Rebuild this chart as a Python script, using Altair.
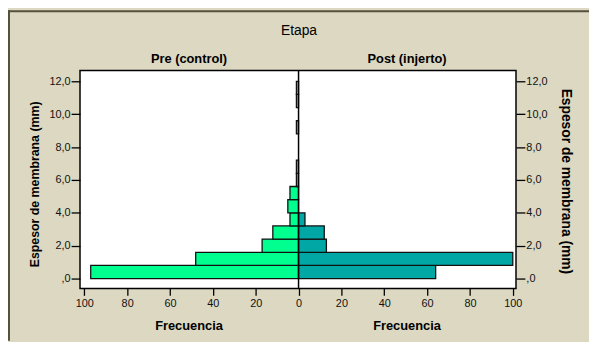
import altair as alt
import pandas as pd

# ---- data ----
bin_start = [0.0, 0.8, 1.6, 2.4, 3.2, 4.0, 4.8, 5.6, 6.4, 7.2, 8.0, 8.8, 9.6, 10.4, 11.2]
bin_width = 0.8
pre_counts = [97, 48, 17, 12, 4, 5, 4, 1, 1, 0, 0, 1, 0, 1, 1]
post_counts = [64, 100, 13, 12, 3, 0, 0, 0, 0, 0, 0, 0, 0, 0, 0]
etapas = ["Pre (control)", "Post (injerto)"]
x_ticks = [-100, -80, -60, -40, -20, 0, 20, 40, 60, 80, 100]
y_ticks = [0, 2, 4, 6, 8, 10, 12]

rows = []
for s, p, q in zip(bin_start, pre_counts, post_counts):
    e = round(s + bin_width, 1)
    rows.append({"etapa": etapas[0], "lo": s, "hi": e, "n": p, "signed": -p})
    rows.append({"etapa": etapas[1], "lo": s, "hi": e, "n": q, "signed": q})
df = pd.DataFrame(rows)
df = df[df["n"] > 0]

W, H = 442, 221
FONT = "Liberation Sans"
BG = "#DCD8C2"
BORDER = "#55503b"

x_scale = alt.Scale(domain=[-102, 101.5], nice=False, zero=False)
y_scale = alt.Scale(domain=[-0.6, 12.66], nice=False, zero=False)

y_label_expr = "datum.value == 0 ? ',0' : replace(format(datum.value, '.1f'), '.', ',')"

x_axis = alt.Axis(values=x_ticks, labelExpr="'' + abs(datum.value)", title=None,
                  grid=False, domain=False, tickSize=7, tickColor="#000",
                  tickWidth=1.3, labelFontSize=11, labelPadding=2,
                  labelFont=FONT, labelColor="#111")

def y_axis(orient):
    left = orient == "left"
    return alt.Axis(orient=orient, values=y_ticks, labelExpr=y_label_expr,
                    title="Espesor de membrana (mm)",
                    titleFont=FONT, titleFontWeight="bold",
                    titleFontSize=12.5 if left else 14,
                    titleAngle=-90 if left else 90,
                    titleX=-46 if left else 50,
                    titleY=115 if left else 112,
                    titleAlign="center", titleBaseline="middle",
                    titleColor="#000",
                    grid=False, domain=False, tickSize=9, tickColor="#000",
                    tickWidth=1.3, labelPadding=1, labelFontSize=11,
                    labelFont=FONT, labelColor="#111")

base = alt.Chart(df)

pre_bars = base.transform_filter(alt.datum.etapa == etapas[0]).mark_bar(
    fill="#00FF8E", stroke="#111", strokeWidth=1.3
).encode(
    x=alt.X("signed:Q", scale=x_scale, axis=x_axis),
    x2=alt.datum(0),
    y=alt.Y("lo:Q", scale=y_scale, axis=y_axis("left")),
    y2="hi:Q",
)

post_bars = base.transform_filter(alt.datum.etapa == etapas[1]).mark_bar(
    fill="#00A7A5", stroke="#111", strokeWidth=1.3
).encode(
    x=alt.X("signed:Q", scale=x_scale, axis=x_axis),
    x2=alt.datum(0),
    y=alt.Y("lo:Q", scale=y_scale, axis=y_axis("right")),
    y2="hi:Q",
)

center = alt.Chart(pd.DataFrame({"z": [0]})).mark_rule(color="#000", strokeWidth=1.5).encode(
    x=alt.X("z:Q", scale=x_scale, axis=x_axis)
)

one = pd.DataFrame({"k": [0]})

def text(label, x, y, size, weight, base_line="middle"):
    return alt.Chart(one).mark_text(
        text=label, font=FONT, fontSize=size, fontWeight=weight,
        color="#000", align="center", baseline=base_line
    ).encode(x=alt.value(x), y=alt.value(y))

titles = [
    text("Etapa", W / 2 + 1, -40, 14, "normal"),
    text(etapas[0], W / 4, -12, 13, "bold"),
    text(etapas[1], 3 * W / 4, -12, 13, "bold"),
    text("Frecuencia", W / 4, H + 42, 13, "bold", "alphabetic"),
    text("Frecuencia", 3 * W / 4, H + 42, 13, "bold", "alphabetic"),
]

border_left = alt.Chart(one).mark_rule(color=BORDER, strokeWidth=2).encode(
    x=alt.value(-72), y=alt.value(-61), y2=alt.value(H + 53)
)
border_top = alt.Chart(one).mark_rule(color=BORDER, strokeWidth=2).encode(
    x=alt.value(-73), x2=alt.value(W + 74), y=alt.value(-60)
)

chart = alt.layer(
    pre_bars, post_bars, center, *titles, border_left, border_top
).resolve_scale(
    y="independent"
).properties(
    width=W, height=H,
    autosize=alt.AutoSizeParams(type="none"),
    padding={"left": 73, "top": 61, "right": 74, "bottom": 52},
    background=BG,
).configure_view(
    stroke="#000", strokeWidth=1.5, fill="#FFFFFF"
)

chart.save("out.html", embed_options={"renderer": "svg", "actions": False})
